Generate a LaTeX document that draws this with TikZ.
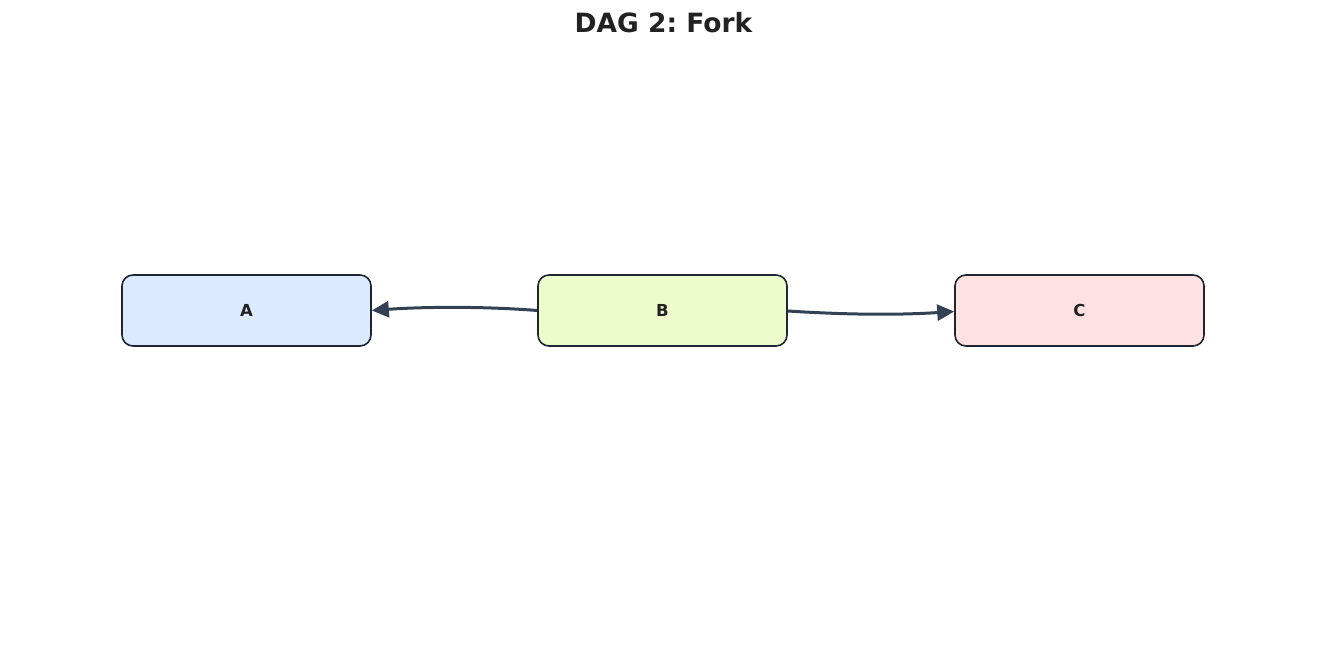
\documentclass[tikz,border=0pt]{standalone}
\usepackage{fontspec}
\setmainfont{DejaVu Sans}
\usetikzlibrary{arrows.meta}
\frenchspacing
\definecolor{edgec}{HTML}{334155}
\definecolor{borderc}{HTML}{1F2533}
\definecolor{txtc}{HTML}{222222}
\definecolor{fillA}{HTML}{DBEAFE}
\definecolor{fillB}{HTML}{ECFCCB}
\definecolor{fillC}{HTML}{FEE2E2}
\tikzset{
  box/.style={draw=borderc, line width=1.6pt, rounded corners=11pt, minimum width=249pt, minimum height=71pt, inner sep=0pt, font=\fontsize{16.5}{19}\selectfont\bfseries, text=txtc},
  edge/.style={draw=edgec, line width=3pt, -{Triangle[length=17pt,width=16pt]}}
}
\begin{document}
\begin{tikzpicture}[x=1pt,y=1pt]
\useasboundingbox (0,0) rectangle (1325,-671);
\node[font=\fontsize{26.5}{30}\selectfont\bfseries, text=txtc] (title) at (663.5,-23) {DAG 2: Fork};
\node[box, fill=fillA] (A) at (246.5,-310.5) {A};
\node[box, fill=fillB] (B) at (662.5,-310.5) {B};
\node[box, fill=fillC] (C) at (1079.5,-310.5) {C};
\draw[edge] (B.west) .. controls (480,-306) and (420,-307) .. (A.east);
\draw[edge] ([yshift=-0.5pt]B.east) .. controls (850,-315) and (900,-315) .. ([yshift=-1pt]C.west);
\end{tikzpicture}
\end{document}
